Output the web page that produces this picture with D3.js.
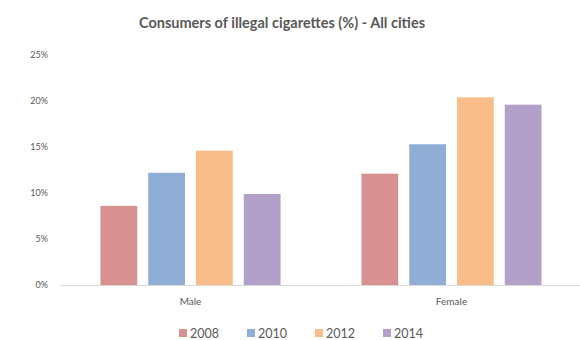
<!DOCTYPE html>
<html>
<head>
<meta charset="utf-8">
<script src="https://cdn.jsdelivr.net/npm/d3@7"></script>
<style>
  body { margin: 0; background: #fff; }
  text { font-family: Lato, "Open Sans", sans-serif; }
</style>
</head>
<body>
<div id="chart"></div>
<script>
// data
const groups = ['Male', 'Female'];
const years = ['2008', '2010', '2012', '2014'];
const male = [8.6, 12.2, 14.6, 9.9];
const female = [12.1, 15.3, 20.4, 19.6];
const yTicks = [0, 5, 10, 15, 20, 25];
const colors = ['#d69190', '#8fadd5', '#f9bd8a', '#b3a0c9'];

const width = 580;
const height = 340;
const margin = { top: 55, right: -2, bottom: 55, left: 60 };

let svg = d3.select('#chart')
    .append('svg')
    .attr('width', width)
    .attr('height', height);

const values = { Male: male, Female: female };

// scales
const x0 = d3.scaleBand()
    .domain(groups)
    .range([margin.left, width - margin.right])
    .paddingInner(0.31)
    .paddingOuter(0.155);

const x1 = d3.scaleBand()
    .domain(years)
    .range([0, x0.bandwidth()])
    .paddingInner(0.23);

const y = d3.scaleLinear()
    .domain([0, 25])
    .range([height - margin.bottom, margin.top]);

// title
svg.append('text')
    .attr('x', 282)
    .attr('y', 28)
    .attr('text-anchor', 'middle')
    .style('font-size', '14.5px')
    .style('font-weight', 'bold')
    .style('fill', '#595959')
    .text('Consumers of illegal cigarettes (%) - All cities');

// y axis labels only
const yAxis = d3.axisLeft(y)
    .tickValues(yTicks)
    .tickFormat(d => d + '%')
    .tickSize(0)
    .tickPadding(12);

svg.append('g')
    .attr('transform', 'translate(' + margin.left + ',0)')
    .call(yAxis)
    .call(g => g.select('.domain').remove())
    .call(g => g.selectAll('text')
        .style('font-size', '9px')
        .style('fill', '#595959')
        .style('font-family', 'Lato, "Open Sans", sans-serif'));

// bars
const gGroups = svg.append('g')
    .selectAll('g')
    .data(groups)
    .join('g')
    .attr('transform', d => 'translate(' + x0(d) + ',0)');

gGroups.selectAll('rect')
    .data(g => values[g].map((v, i) => ({ year: years[i], v: v, i: i })))
    .join('rect')
    .attr('x', d => x1(d.year))
    .attr('y', d => y(d.v))
    .attr('width', x1.bandwidth())
    .attr('height', d => y(0) - y(d.v))
    .attr('fill', d => colors[d.i]);

// x axis
const xAxis = d3.axisBottom(x0).tickSize(0).tickPadding(13);

svg.append('g')
    .attr('transform', 'translate(0,' + y(0) + ')')
    .call(xAxis)
    .call(g => g.select('.domain').attr('stroke', '#d9d9d9'))
    .call(g => g.selectAll('text')
        .style('font-size', '10px')
        .style('fill', '#595959')
        .style('font-family', 'Lato, "Open Sans", sans-serif'));

// legend
const legend = svg.append('g')
    .selectAll('g')
    .data(years)
    .join('g')
    .attr('transform', (d, i) => 'translate(' + (179 + i * 68) + ',333)');

legend.append('rect')
    .attr('x', 0)
    .attr('y', -4)
    .attr('width', 8)
    .attr('height', 8)
    .attr('fill', (d, i) => colors[i]);

legend.append('text')
    .attr('x', 11)
    .attr('y', 4.5)
    .style('font-size', '12.5px')
    .style('fill', '#595959')
    .text(d => d);
</script>
</body>
</html>
